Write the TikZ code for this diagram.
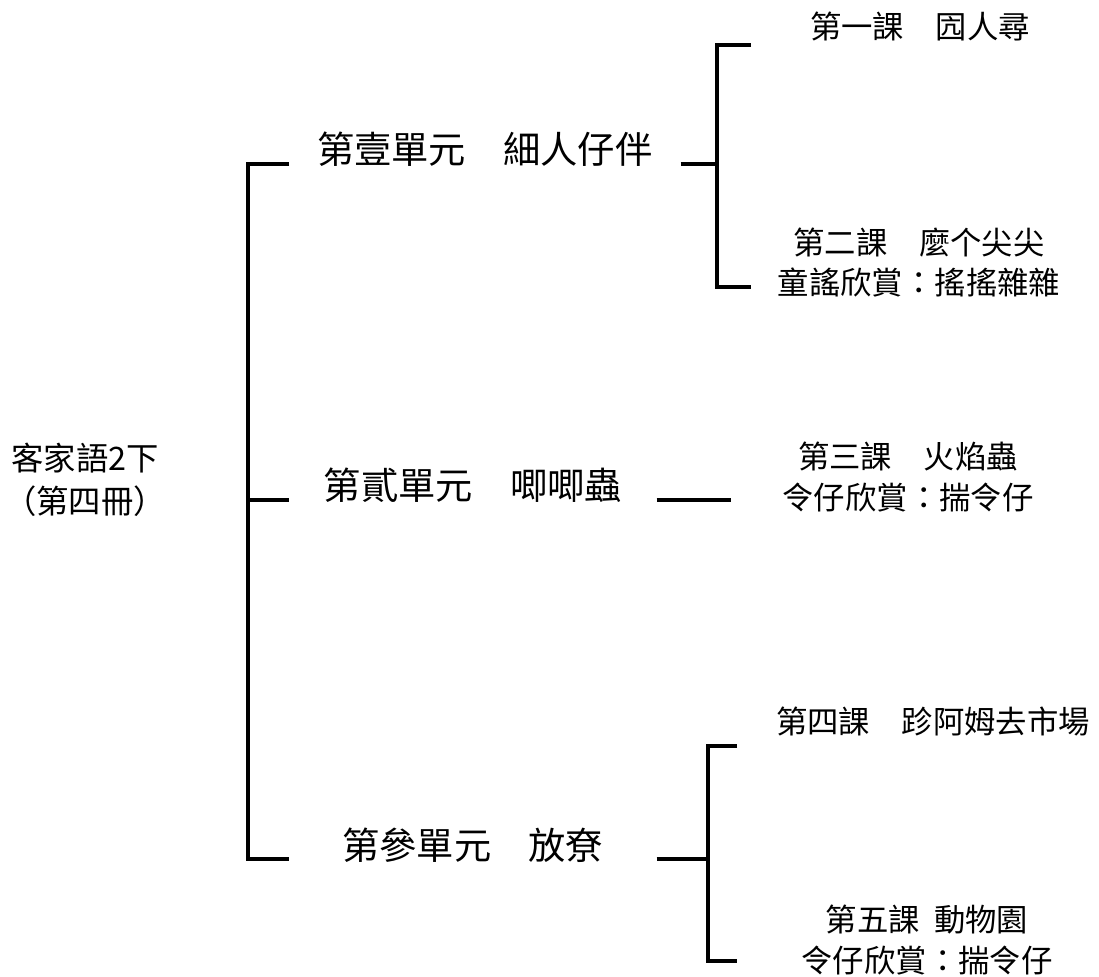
\documentclass[tikz,border=0pt]{standalone}
\usepackage{fontspec}
\setmainfont{Noto Sans CJK TC}
\usetikzlibrary{positioning,calc}
\tikzstyle{rbox}=[rectangle, inner sep=0pt, align=center, font=\fontsize{23}{31}\selectfont]
\tikzstyle{ubox}=[rectangle, inner sep=0pt, text centered, anchor=base west, font=\fontsize{26.5}{32}\selectfont]
\tikzstyle{lbox}=[rectangle, inner sep=0pt, align=center, font=\fontsize{22.3}{28.5}\selectfont]
\tikzstyle{pline}=[-, line width=2.8pt]

\begin{document}
\begin{tikzpicture}[x=0.025cm, y=-0.025cm]
\useasboundingbox (0,0) rectangle (1099,977);

\node (ROOT) [rbox] at (85,480) {客家語2下\\（第四冊）};

\node (UNIT1) [ubox, minimum width=9.775cm] at (289,164) {第壹單元　細人仔伴};
\node (UNIT2) [ubox, minimum width=9.175cm] at (289,500) {第貳單元　唧唧蟲};
\node (UNIT3) [ubox, minimum width=9.175cm] at (289,859) {第參單元　放尞};

\node (LES1) [lbox] at (920,26) {第一課　囥人尋};
\node (LES2) [lbox] at (919,263) {第二課　麼个尖尖\\童謠欣賞：搖搖雜雜};
\node (LES3) [lbox] at (908,477) {第三課　火焰蟲\\令仔欣賞：揣令仔};
\node (LES4) [lbox] at (933,722) {第四課　跈阿姆去市場};
\node (LES5) [lbox] at (927,940) {第五課\hspace{0.45em}動物園\\令仔欣賞：揣令仔};

\coordinate (SP0) at (248,500);
\draw[pline] (UNIT1.base west) -| (SP0) |- (UNIT3.base west);
\draw[pline] (SP0) -- (UNIT2.base west);

\coordinate (SP1) at (717,164);
\coordinate (SP1top) at (751,45);
\coordinate (SP1bot) at (751,287);
\draw[pline] (UNIT1.base east) -- (SP1);
\draw[pline] (SP1top) -| (SP1) |- (SP1bot);

\coordinate (END2) at (731,500);
\draw[pline] (UNIT2.base east) -- (END2);

\coordinate (SP3) at (708,859);
\coordinate (SP3top) at (737,746);
\coordinate (SP3bot) at (737,961);
\draw[pline] (UNIT3.base east) -- (SP3);
\draw[pline] (SP3top) -| (SP3) |- (SP3bot);

\end{tikzpicture}
\end{document}
